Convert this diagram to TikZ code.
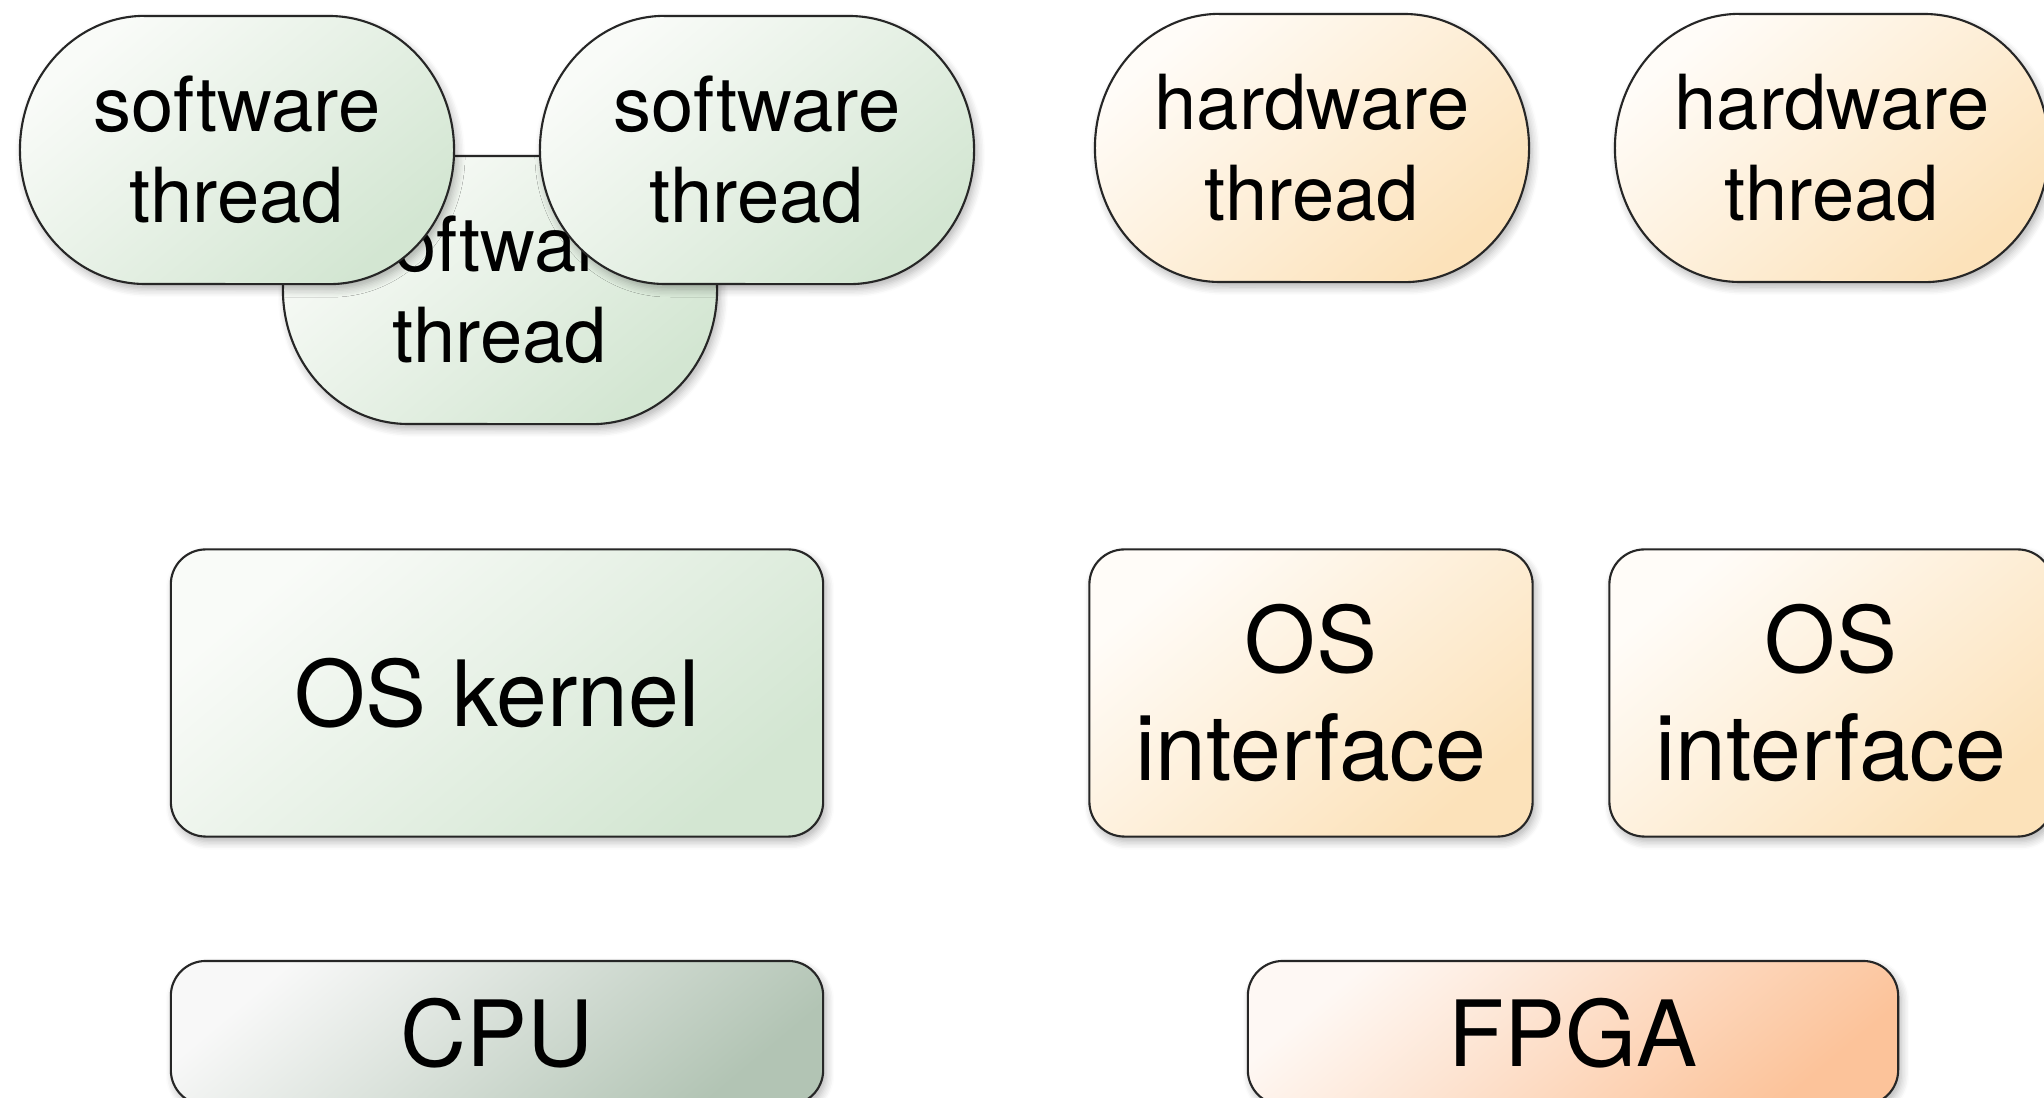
\documentclass[tikz,border=0pt]{standalone}
\usepackage{fontspec}
\setmainfont{TeX Gyre Heros}
\usetikzlibrary{shadows.blur}

% fills: light tint in the upper left, full colour in the lower right
\definecolor{swlight}{HTML}{F9FBF8}
\definecolor{swdark}{HTML}{D3E6D2}
\definecolor{hwlight}{HTML}{FFFCF8}
\definecolor{hwdark}{HTML}{FCE2BA}
\definecolor{cpulight}{HTML}{F8F8F8}
\definecolor{cpudark}{HTML}{B2C4B4}
\definecolor{fpgalight}{HTML}{FEF8F4}
\definecolor{fpgadark}{HTML}{FCC39A}

\tikzset{
  softshadow/.style={blur shadow={shadow xshift=0.03cm, shadow yshift=-0.05cm,
      shadow blur radius=0.08cm, shadow opacity=30, shadow blur steps=6}},
  outline/.style={draw=black!85, line width=0.6pt},
  greenfill/.style={top color=swlight, bottom color=swdark, shading angle=40},
  orangefill/.style={top color=hwlight, bottom color=hwdark, shading angle=40},
  cpufill/.style={top color=cpulight, bottom color=cpudark, shading angle=40},
  fpgafill/.style={top color=fpgalight, bottom color=fpgadark, shading angle=40},
  threadlabel/.style={inner sep=0pt, align=center, text=black,
      font=\fontsize{21.6}{26}\selectfont},
  layerbox/.style={outline, softshadow, rounded corners=0.35cm, inner sep=0pt,
      align=center, text=black, font=\fontsize{26}{30.5}\selectfont},
}

% outline of a thread: straight top and bottom, half-elliptic ends
% #1, #2: centre; #3: fill style
\newcommand\threadshape[3]{%
  \path[outline, softshadow, #3]
    (#1-92,#2+134) -- (#1+92,#2+134)
    arc[start angle=90, end angle=-90, x radius=1.25cm, y radius=1.34cm]
    -- (#1-92,#2-134)
    arc[start angle=270, end angle=90, x radius=1.25cm, y radius=1.34cm]
    -- cycle;}

\begin{document}
\begin{tikzpicture}[x=0.01cm, y=0.01cm]
  \useasboundingbox (0,0) rectangle (2044,-1098);

  % software threads, the back one first
  \threadshape{500}{-290}{greenfill}
  \node[threadlabel] (sw3) at (500,-290) {software\\thread};
  \threadshape{237}{-150}{greenfill}
  \node[threadlabel] (sw1) at (237,-150) {software\\thread};
  \threadshape{757}{-150}{greenfill}
  \node[threadlabel] (sw2) at (757,-150) {software\\thread};

  % hardware threads
  \threadshape{1312}{-148}{orangefill}
  \node[threadlabel] (hw1) at (1312,-148) {hardware\\thread};
  \threadshape{1832}{-148}{orangefill}
  \node[threadlabel] (hw2) at (1832,-148) {hardware\\thread};

  % operating system layer
  \node[layerbox, greenfill, minimum width=6.52cm, minimum height=2.87cm]
    (kernel) at (497,-693) {OS kernel};
  \node[layerbox, orangefill, minimum width=4.43cm, minimum height=2.87cm]
    (osif1) at (1311,-693) {OS\\interface};
  \node[layerbox, orangefill, minimum width=4.43cm, minimum height=2.87cm]
    (osif2) at (1831,-693) {OS\\interface};

  % hardware layer
  \node[layerbox, cpufill, minimum width=6.52cm, minimum height=1.44cm]
    (cpu) at (497,-1033) {CPU};
  \node[layerbox, fpgafill, minimum width=6.50cm, minimum height=1.44cm]
    (fpga) at (1573,-1033) {FPGA};
\end{tikzpicture}
\end{document}
